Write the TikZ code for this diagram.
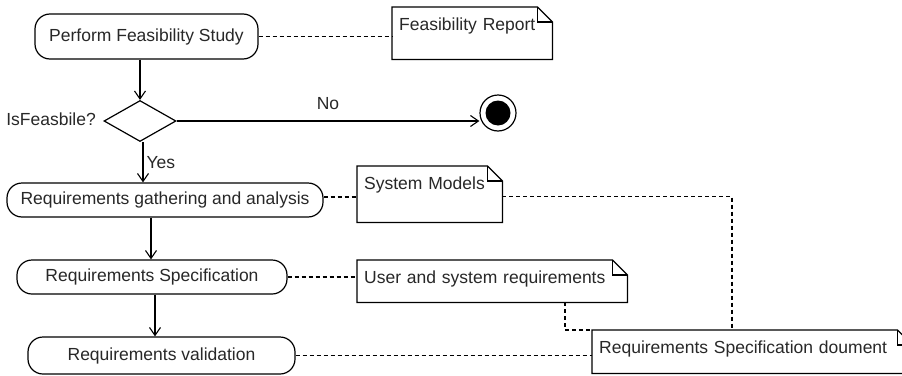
\documentclass[tikz,border=0pt]{standalone}
\usepackage{fontspec}
\setmainfont{Liberation Sans}
\usetikzlibrary{arrows.meta,shapes.geometric}
\definecolor{txt}{RGB}{40,40,40}
\tikzset{
  every node/.style={font=\fontsize{17.5}{20}\selectfont, text=txt},
  ln/.style={line width=1.2pt, draw=black},
  act/.style={ln, rounded corners=15pt, inner sep=0pt},
  notebox/.style={anchor=north west, inner xsep=7pt, inner ysep=5pt, align=left, text height=18pt},
  flow/.style={ln, -{Straight Barb[length=8pt,width=11pt,line width=1.1pt]}},
  dep/.style={ln, dash pattern=on 4pt off 3pt},
  lbl/.style={inner sep=0pt}
}
\begin{document}
\begin{tikzpicture}[x=1pt,y=-1pt]
\useasboundingbox (0,0) rectangle (902,375);
\clip (0,0) rectangle (902,375);
\fill[white] (0,0) rectangle (902,375);
% activities
\node[act, minimum width=223pt, minimum height=45pt] (n1) at (146.5,36.5) {Perform Feasibility Study};
\node[act, minimum width=316pt, minimum height=34pt] (n2) at (165,200) {Requirements gathering and analysis};
\node[act, minimum width=270pt, minimum height=34pt] (n3) at (152,277) {Requirements Specification};
\node[act, minimum width=267pt, minimum height=37pt] (n4) at (161.5,355.5) {Requirements validation};
% decision
\node[diamond, ln, minimum width=72pt, minimum height=41pt, inner sep=0pt] (d) at (140,121) {};
\node[lbl] (dl) at (51,119) {IsFeasbile?};
% final
\node[circle, ln, minimum size=36pt, inner sep=0pt] (fin) at (498,113) {};
\fill (fin) circle (12.5pt);
% notes
\node[notebox, text width=146pt, text depth=24pt] (fr) at (392,7) {Feasibility Report};
\node[notebox, text width=131pt, text depth=28pt] (sm) at (357,166) {System Models};
\node[notebox, text width=256pt, text depth=14pt] (usr) at (357,260) {User and system requirements};
\node[notebox, text width=306pt, text depth=15pt] (doc) at (592,330) {Requirements Specification doument};
\foreach \n in {fr,sm,usr,doc}{
  \draw[ln] (\n.north west) -- ([xshift=-15pt]\n.north east) -- ([yshift=-15pt]\n.north east)
     -- (\n.south east) -- (\n.south west) -- cycle;
  \draw[ln] ([xshift=-15pt]\n.north east) -- ([xshift=-15pt,yshift=-15pt]\n.north east) -- ([yshift=-15pt]\n.north east);
}
% control flow
\draw[flow] (d.north |- n1.south) -- (d.north);
\draw[flow] (d.east) -- (d.east -| fin.west) node[pos=0.5, above=11pt, lbl] (no) {No};
\draw[flow] ([xshift=3pt]d.south) -- ([xshift=3pt]d.south |- n2.north) node[pos=0.5, right=3pt, lbl] (yes) {Yes};
\draw[flow] (n2.south -| 151,0) -- (n3.north -| 151,0);
\draw[flow] (n3.south -| 155,0) -- (n4.north -| 155,0);
% object links
\draw[dep] (n1.east) -- (n1.east -| fr.west);
\draw[dep] ([yshift=3pt]n2.east) -- ([yshift=3pt]n2.east -| sm.west);
\draw[dep] ([yshift=-2pt]sm.east) -| ([xshift=140pt]doc.north west);
\draw[dep] (n3.east) -- (n3.east -| usr.west);
\draw[dep] (usr.south -| 565,0) |- (doc.north west);
\draw[dep] (n4.east) -- (n4.east -| doc.west);
\end{tikzpicture}
\end{document}
